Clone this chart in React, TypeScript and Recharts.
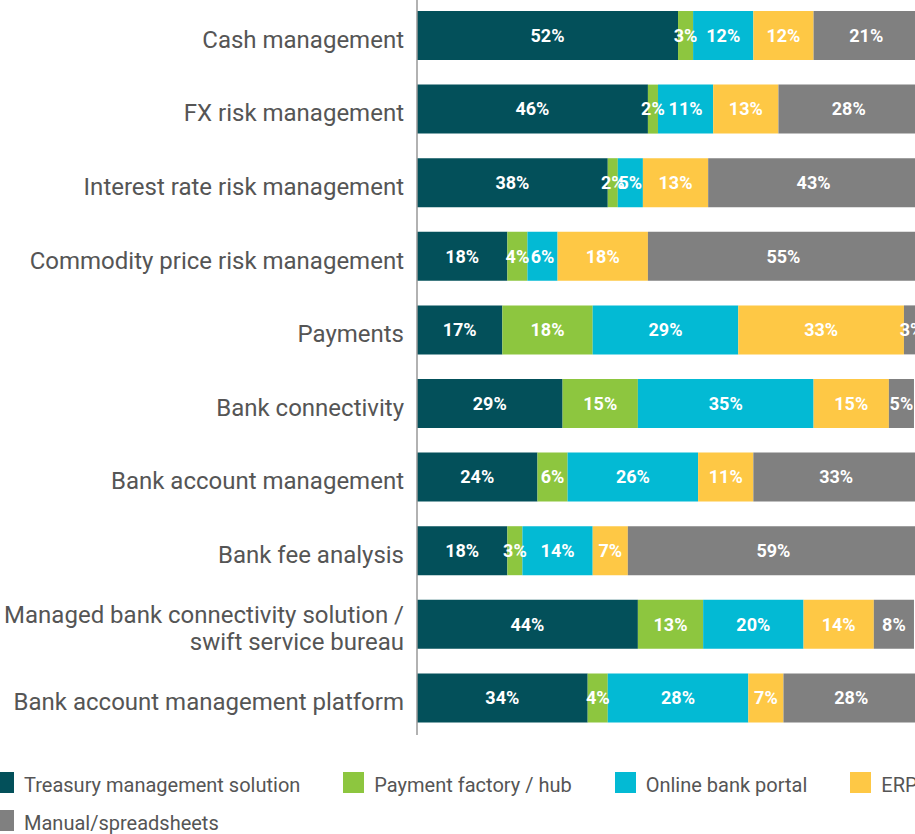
import { BarChart, Bar, XAxis, YAxis, LabelList } from "recharts";

const CATEGORIES = [
    "Cash management",
    "FX risk management",
    "Interest rate risk management",
    "Commodity price risk management",
    "Payments",
    "Bank connectivity",
    "Bank account management",
    "Bank fee analysis",
    "Managed bank connectivity solution / swift service bureau",
    "Bank account management platform",
];

const TREASURY = [52, 46, 38, 18, 17, 29, 24, 18, 44, 34];
const PAYMENT_FACTORY = [3, 2, 2, 4, 18, 15, 6, 3, 13, 4];
const BANK_PORTAL = [12, 11, 5, 6, 29, 35, 26, 14, 20, 28];
const ERP = [12, 13, 13, 18, 33, 15, 11, 7, 14, 7];
const MANUAL = [21, 28, 43, 55, 3, 5, 33, 59, 8, 28];

const SERIES = [
    { key: "tms", name: "Treasury management solution", color: "#03505a", values: TREASURY },
    { key: "pf", name: "Payment factory / hub", color: "#8dc63f", values: PAYMENT_FACTORY },
    { key: "obp", name: "Online bank portal", color: "#03bad4", values: BANK_PORTAL },
    { key: "erp", name: "ERP", color: "#fec845", values: ERP },
    { key: "manual", name: "Manual/spreadsheets", color: "#808080", values: MANUAL },
];

const data = CATEGORIES.map((name, i) => {
    const row: Record<string, any> = { name };
    SERIES.forEach(s => { row[s.key] = s.values[i]; });
    return row;
});

const FONT = "Roboto, 'Noto Sans', sans-serif";

// y-axis labels sit a little below the bar centre in the original
function CategoryTick({ x, y, payload }: any) {
    const text: string = payload.value;
    const cut = text.indexOf("/ ");
    const lines = text.length > 40 && cut > 0
        ? [text.slice(0, cut + 1), text.slice(cut + 2)]
        : [text];
    const lh = 27;
    const base = 12 - ((lines.length - 1) * lh) / 2;
    return (
        <text x={x} y={y} textAnchor="end" fill="#555555" fontSize={24} fontFamily={FONT}>
            {lines.map((l, i) => (
                <tspan key={i} x={x} dy={i === 0 ? base : lh}>{l}</tspan>
            ))}
        </text>
    );
}

export default function App() {
    return (
        <div style={{ position: "fixed", left: 0, top: 0, width: 915, height: 834, overflow: "hidden", background: "#fff" }}>
            <div style={{ position: "absolute", left: 0, top: -1 }}>
                <BarChart
                    layout="vertical"
                    width={919}
                    height={736}
                    data={data}
                    margin={{ top: 0, right: 0, left: 0, bottom: 0 }}
                    barSize={49}
                >
                    <XAxis type="number" domain={[0, 100]} allowDataOverflow hide />
                    <YAxis
                        type="category"
                        dataKey="name"
                        width={417}
                        tickLine={false}
                        tickSize={0}
                        tickMargin={13}
                        axisLine={{ stroke: "#999999", strokeWidth: 1.5 }}
                        tick={<CategoryTick />}
                        interval={0}
                    />
                    {SERIES.map(s => (
                        <Bar key={s.key} dataKey={s.key} name={s.name} stackId="a" fill={s.color} isAnimationActive={false}>
                            <LabelList
                                dataKey={s.key}
                                position="center"
                                fill="#ffffff"
                                fontSize={18}
                                fontWeight={700}
                                fontFamily={FONT}
                                formatter={(v: any) => `${v}%`}
                            />
                        </Bar>
                    ))}
                </BarChart>
            </div>
            <div
                style={{
                    position: "absolute",
                    left: -7,
                    top: 772,
                    width: 1060,
                    display: "flex",
                    flexWrap: "wrap",
                    rowGap: 17,
                    fontFamily: FONT,
                    fontSize: 20,
                    color: "#555555",
                }}
            >
                {SERIES.map(s => (
                    <div key={s.key} style={{ display: "flex", alignItems: "center", height: 21, marginRight: 43, whiteSpace: "nowrap" }}>
                        <span style={{ width: 21, height: 21, background: s.color, marginRight: 10, flexShrink: 0 }} />
                        <span style={{ paddingTop: 4 }}>{s.name}</span>
                    </div>
                ))}
            </div>
        </div>
    );
}
